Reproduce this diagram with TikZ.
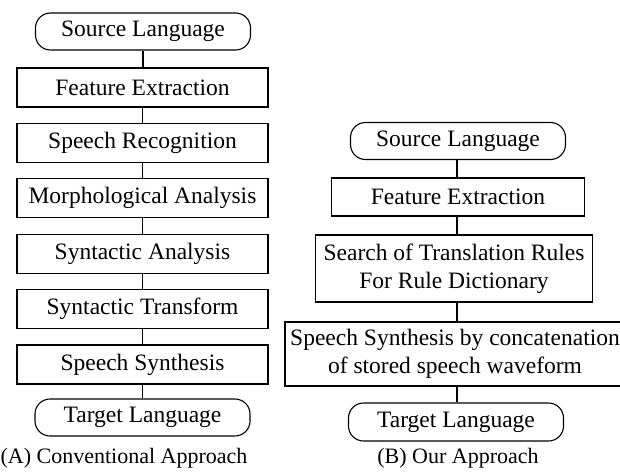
\documentclass[tikz,border=0pt]{standalone}
\usepackage{fontspec}
\setmainfont{Liberation Serif}
\begin{document}
\begin{tikzpicture}[x=1pt,y=-1pt,
  every node/.style={font=\fontsize{23.5}{28}\selectfont},
  stepbox/.style={draw, line width=1.1pt, minimum height=39pt, inner sep=0pt, align=center},
  termbox/.style={draw, line width=1.1pt, rounded corners=15pt, minimum height=37pt, minimum width=215pt, inner sep=0pt},
  link/.style={line width=1.1pt},
  caption/.style={inner sep=0pt, font=\fontsize{22}{26}\selectfont}]
\useasboundingbox (0,0) rectangle (620,471);
\clip (0,0) rectangle (620,471);

% (A) conventional pipeline
\node[termbox] (srcA) at (143,31.5) {Source Language};
\node[stepbox, minimum width=251pt] (feA) at (142.5,87.5) {Feature Extraction};
\node[stepbox, minimum width=251pt] (srA) at (142.5,142.9) {Speech Recognition};
\node[stepbox, minimum width=251pt] (maA) at (142.5,198.3) {Morphological Analysis};
\node[stepbox, minimum width=251pt] (saA) at (142.5,253.7) {Syntactic Analysis};
\node[stepbox, minimum width=251pt] (stA) at (142.5,309.1) {Syntactic Transform};
\node[stepbox, minimum width=251pt] (ssA) at (142.5,364.5) {Speech Synthesis};
\node[termbox] (tgA) at (142.5,417.5) {Target Language};
\node[caption] (capA) at (124,458) {(A) Conventional Approach};

\foreach \a/\b in {srcA/feA, feA/srA, srA/maA, maA/saA, saA/stA, stA/ssA, ssA/tgA}
  \draw[link] (\a.south) -- (\a.south |- \b.north);

% (B) proposed pipeline
\node[termbox] (srcB) at (458,141) {Source Language};
\node[stepbox, minimum width=253pt, minimum height=38pt] (feB) at (458,197) {Feature Extraction};
\node[stepbox, minimum width=277pt, minimum height=67pt] (seB) at (454,268.5) {Search of Translation Rules\\For Rule Dictionary};
\node[stepbox, minimum width=340pt, minimum height=64pt] (coB) at (455,354) {Speech Synthesis by concatenation\\of stored speech waveform};
\node[termbox, minimum height=38pt] (tgB) at (456,422) {Target Language};
\node[caption] (capB) at (458,458) {(B) Our Approach};

\foreach \a/\b in {srcB/feB, feB/seB, seB/coB, coB/tgB}
  \draw[link] (457,0 |- \a.south) -- (457,0 |- \b.north);
\end{tikzpicture}
\end{document}
